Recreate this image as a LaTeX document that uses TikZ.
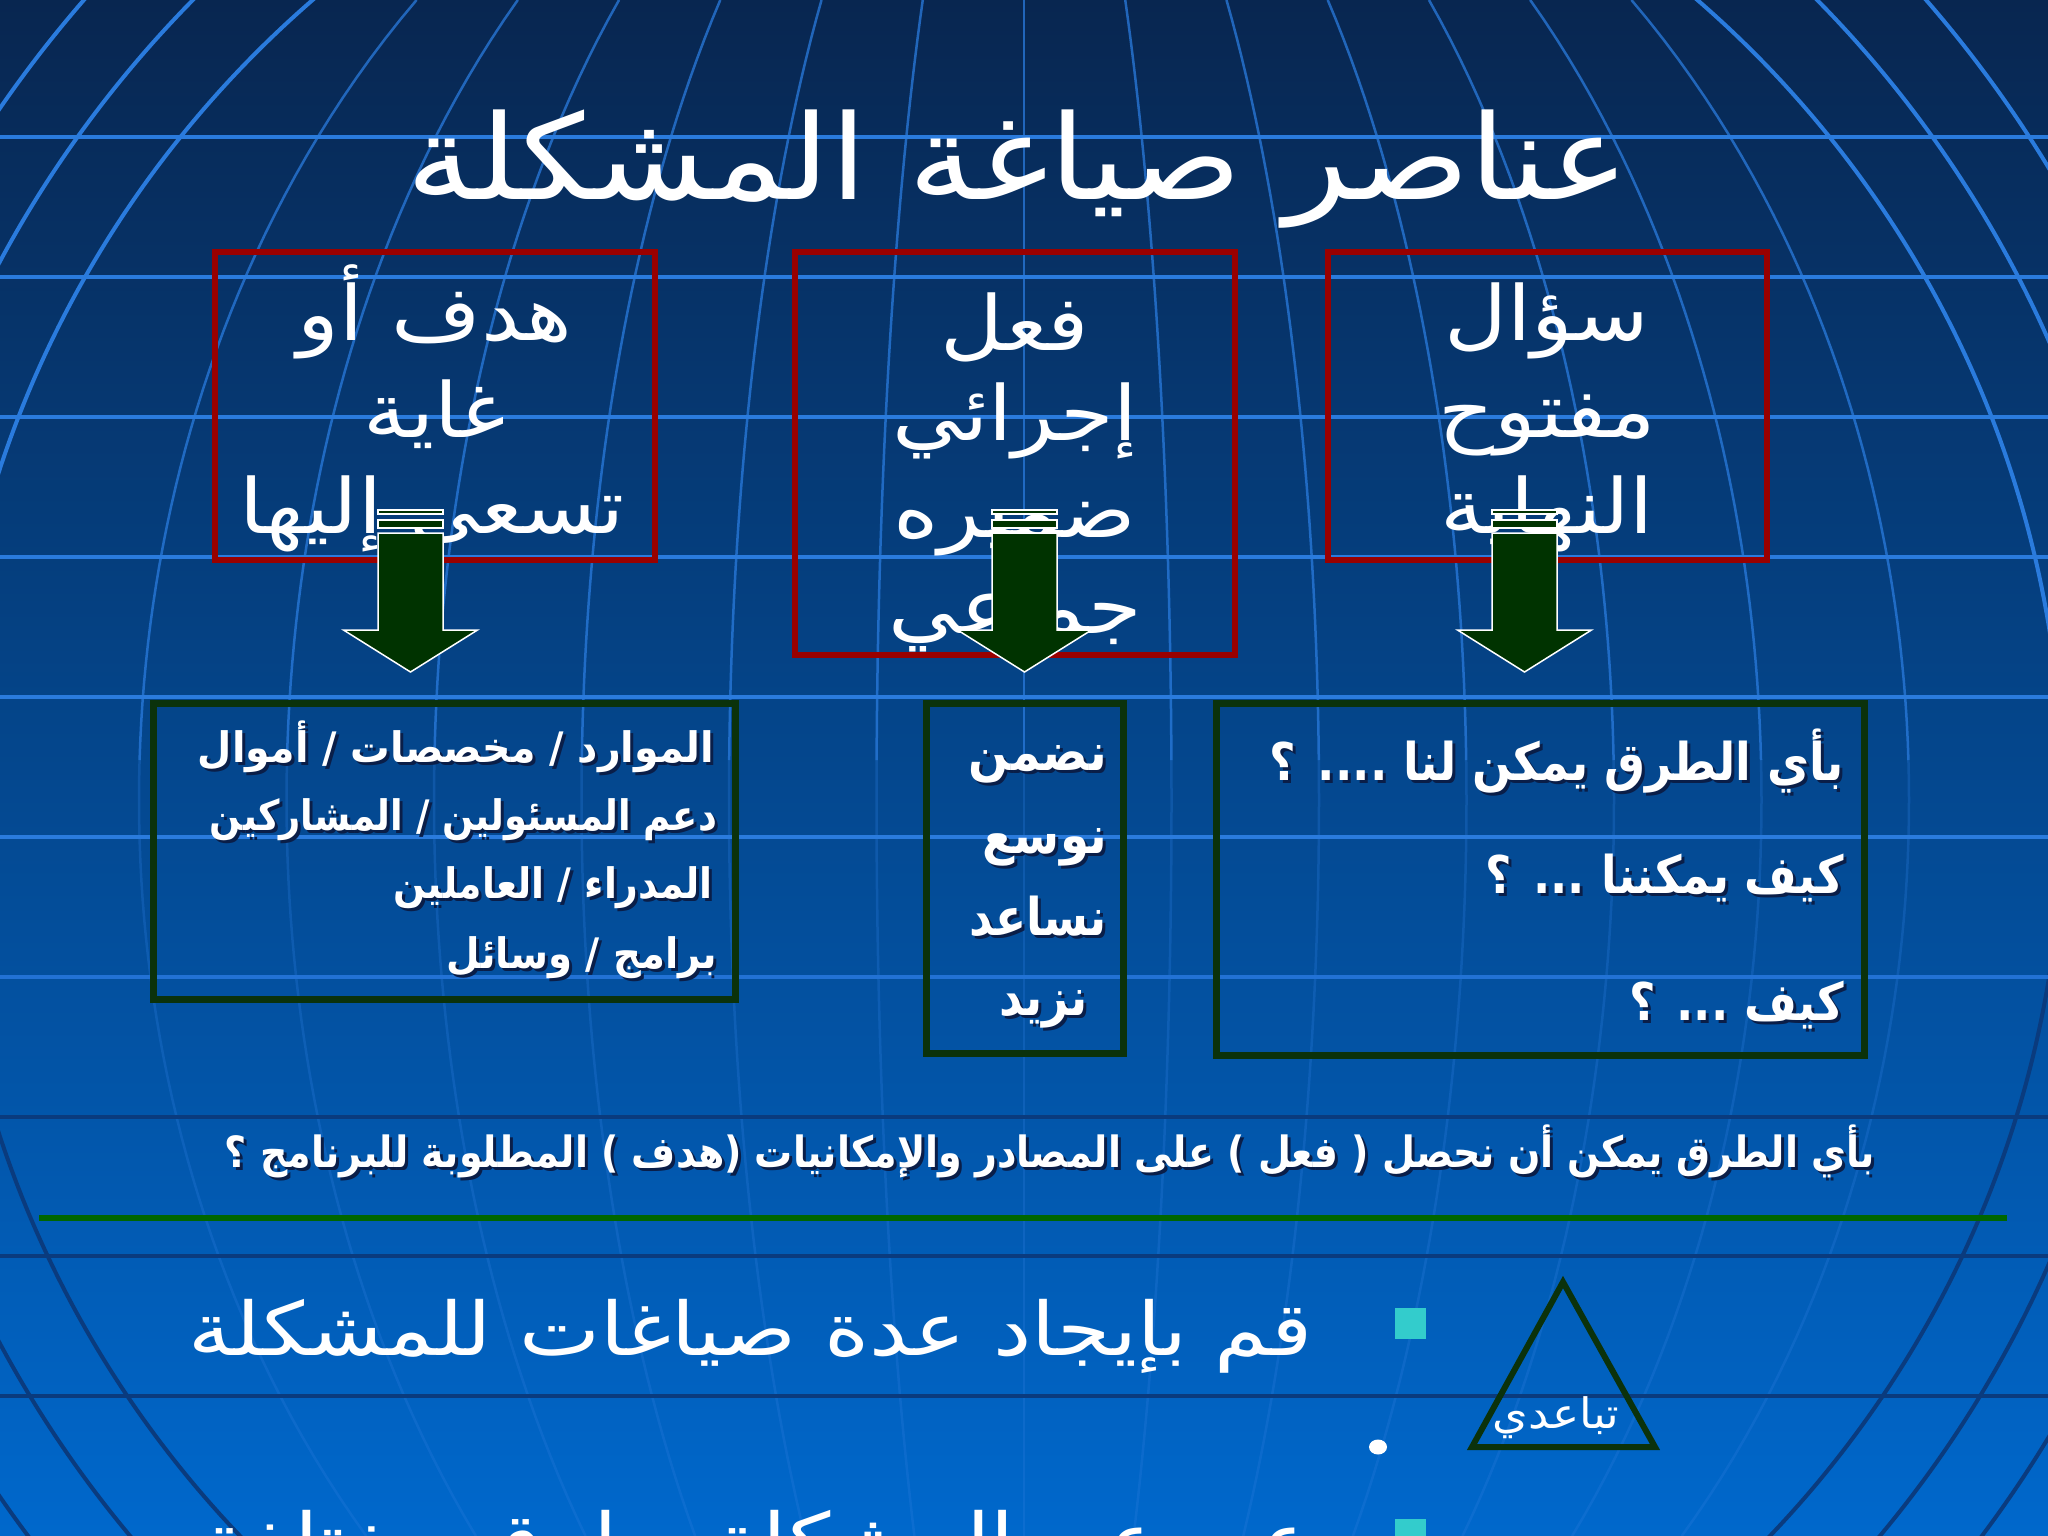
\documentclass[tikz,border=0pt]{standalone}
\usepackage{fontspec}
\usepackage{graphicx}
\TeXXeTstate=1
\newfontfamily\arabicfont[Script=Arabic]{DejaVu Sans}
\newcommand\AR[1]{\arabicfont\beginR #1\endR}
\newcommand\WAR[1]{\scalebox{1.14}[1]{\arabicfont\beginR #1\endR}}
\definecolor{bgtop}{HTML}{082650}
\definecolor{bgmid}{HTML}{03488F}
\definecolor{bgbot}{HTML}{0068CC}
\definecolor{gridlight}{HTML}{2A7BDD}
\definecolor{gridmid}{HTML}{2272D5}
\definecolor{griddark}{HTML}{0A3B7E}
\definecolor{boxred}{HTML}{990000}
\definecolor{boxgreen}{HTML}{0B320B}
\definecolor{arrowgreen}{HTML}{003300}
\definecolor{sepgreen}{HTML}{006600}
\definecolor{bulletcyan}{HTML}{33CCCC}
\definecolor{shadowc}{HTML}{0A1E48}
\tikzset{
  txt/.style={inner sep=0pt, outer sep=0pt, text=white},
  redbox/.style={draw=boxred, line width=6pt, inner sep=0pt},
  greenbox/.style={draw=boxgreen, line width=7pt, inner sep=0pt},
  bigarrow/.style={fill=arrowgreen, draw=white, line width=1.5pt},
  hline/.style={line width=4pt},
  merid/.style={line width=2.5pt},
}
\newcommand\blacktext[4]{\resizebox{#2pt}{\height}{\fontsize{#1}{#1}\selectfont\arabicfont\bfseries\beginR #4\endR}}
% name, right x, baseline y, font size, width, text
\newcommand\sline[6]{%
  \node[txt, text=shadowc, anchor=base east] (#1s) at ({#2+3},{#3+3}) {\blacktext{#4}{#5}{}{#6}};
  \node[txt, anchor=base east] (#1) at (#2,#3) {\blacktext{#4}{#5}{}{#6}};
}
\newcommand\greenarrow[2]{%
  \path[bigarrow] ({#2-32.5},510) rectangle ({#2+32.5},514);
  \path[bigarrow] ({#2-32.5},520) rectangle ({#2+32.5},528);
  \path[bigarrow] ({#2-32.5},533) -- ({#2+32.5},533) -- ({#2+32.5},630) -- ({#2+67},630)
     -- (#2,672) -- ({#2-67},630) -- ({#2-32.5},630) -- cycle;
  \coordinate (#1) at (#2,672);
}
\begin{document}
\begin{tikzpicture}[x=1pt,y=-1pt]
\useasboundingbox (0,0) rectangle (2048,1536);
\begin{scope}
\clip (0,0) rectangle (2048,1536);
\shade[top color=bgtop, middle color=bgmid, bottom color=bgbot] (0,0) rectangle (2048,1536);
% meridians and globe arcs
\begin{scope}
  \clip (0,0) rectangle (2048,760);
  \foreach \k in {-6,...,6}{
    \draw[merid, gridlight, opacity=0.75] plot[domain=0:760, samples=40, variable=\t] ({1024+\k*147.5*sqrt(1-((\t-800)/1100)^2)}, \t);
  }
  \foreach \r in {1058,1140,1220}{
    \draw[hline, gridlight] (1005,800) circle[radius=\r pt];
  }
\end{scope}
\begin{scope}
  \clip (0,760) rectangle (2048,1536);
  \foreach \k in {-6,...,6}{
    \draw[merid, gridlight, opacity=0.3] plot[domain=760:1536, samples=40, variable=\t] ({1024+\k*147.5*sqrt(1-((\t-800)/1100)^2)}, \t);
  }
  \foreach \r in {1058,1140,1220}{
    \draw[hline, griddark] (1005,805) circle[radius=\r pt];
  }
\end{scope}
% horizontal grid lines
\foreach \yy/\cc in {137/gridlight,277/gridlight,417/gridlight,557/gridlight,697/gridlight,837/gridlight,977/gridmid,1117/griddark,1256/griddark,1396/griddark}{
  \draw[hline, \cc] (0,\yy) -- (2048,\yy);
}
% title
\node[txt, anchor=base] (title) at (1018,200) {\resizebox{1222pt}{\height}{\fontsize{118}{130}\selectfont\AR{عناصر صياغة المشكلة}}};
% red boxes
\node[redbox, minimum width=440pt, minimum height=308pt] (r1) at (435,406) {};
\node[redbox, minimum width=440pt, minimum height=403pt] (r2) at (1015,453.5) {};
\node[redbox, minimum width=439pt, minimum height=308pt] (r3) at (1547.5,406) {};
% red box texts
\node[txt, anchor=base] (r1a) at (435,340) {\fontsize{76}{90}\selectfont\WAR{هدف أو}};
\node[txt, anchor=base] (r1b) at (435,437) {\fontsize{76}{90}\selectfont\WAR{غاية}};
\node[txt, anchor=base] (r1c) at (432,533) {\fontsize{76}{90}\selectfont\WAR{تسعى إليها}};
\node[txt, anchor=base] (r2a) at (1015,350) {\fontsize{76}{90}\selectfont\WAR{فعل}};
\node[txt, anchor=base] (r2b) at (1015,440) {\fontsize{76}{90}\selectfont\WAR{إجرائي}};
\node[txt, anchor=base] (r2c) at (1015,537) {\fontsize{76}{90}\selectfont\WAR{ضميره}};
\node[txt, anchor=base] (r2d) at (1015,633) {\fontsize{76}{90}\selectfont\WAR{جماعي}};
\node[txt, anchor=base] (r3a) at (1547,340) {\fontsize{76}{90}\selectfont\WAR{سؤال}};
\node[txt, anchor=base] (r3b) at (1547,437) {\fontsize{76}{90}\selectfont\WAR{مفتوح}};
\node[txt, anchor=base] (r3c) at (1547,533) {\fontsize{76}{90}\selectfont\WAR{النهاية}};
% arrows
\greenarrow{a1}{410.5}
\greenarrow{a2}{1024.5}
\greenarrow{a3}{1524.5}
% green boxes
\node[greenbox, minimum width=582pt, minimum height=296pt] (g1) at (444,851) {};
\node[greenbox, minimum width=197pt, minimum height=350pt] (g2) at (1024.5,878) {};
\node[greenbox, minimum width=648pt, minimum height=352pt] (g3) at (1540,879) {};
% green box texts
\sline{g1a}{714}{762}{42}{516}{الموارد / مخصصات / أموال}
\sline{g1b}{717}{830}{42}{507}{دعم المسئولين / المشاركين}
\sline{g1c}{713}{898}{42}{319}{المدراء / العاملين}
\sline{g1d}{717}{968}{42}{270}{برامج / وسائل}
\sline{g2a}{1107}{770}{52}{138}{نضمن}
\sline{g2b}{1107}{853}{52}{125}{نوسع}
\sline{g2c}{1107}{935}{52}{138}{نساعد}
\sline{g2d}{1088}{1015}{52}{89}{نزيد}
\sline{g3a}{1844}{780}{52}{574}{بأي الطرق يمكن لنا .... ؟}
\sline{g3b}{1844}{893}{52}{358}{كيف يمكننا ... ؟}
\sline{g3c}{1844}{1020}{52}{215}{كيف ... ؟}
% question line
\sline{q}{1875}{1167}{43}{1650}{بأي الطرق يمكن أن نحصل ( فعل ) على المصادر والإمكانيات (هدف ) المطلوبة للبرنامج ؟}
% separator
\coordinate (sepL) at (39,1218);
\coordinate (sepR) at (2007,1218);
\draw[sepgreen, line width=6pt] (sepL) -- (sepR);
% bullets
\node[fill=bulletcyan, minimum size=31pt, inner sep=0pt] (b1) at (1410.5,1323.5) {};
\node[fill=bulletcyan, minimum size=31pt, inner sep=0pt] (b2) at (1410.5,1534.5) {};
\node[txt, anchor=base east] (bt1) at (1313,1355) {\resizebox{1124pt}{\height}{\fontsize{74}{80}\selectfont\AR{قم بإيجاد عدة صياغات للمشكلة}}};
\node[txt, anchor=base east] (bt2) at (1313,1566) {\scalebox{1.17}[1]{\fontsize{74}{80}\selectfont\AR{عبر عن المشكلة بطرق مختلفة}}};
% triangle
\coordinate (tA) at (1563,1282);
\coordinate (tB) at (1655,1447);
\coordinate (tC) at (1472,1447);
\draw[boxgreen, line width=6pt, line join=miter] (tA) -- (tB) -- (tC) -- cycle;
\node[txt, anchor=base] (tri) at (1556,1428) {\resizebox{127pt}{\height}{\fontsize{42}{48}\selectfont\AR{تباعدي}}};
\fill[white] (1378,1447) ellipse[x radius=9pt, y radius=7.5pt];
\end{scope}
\end{tikzpicture}
\end{document}
